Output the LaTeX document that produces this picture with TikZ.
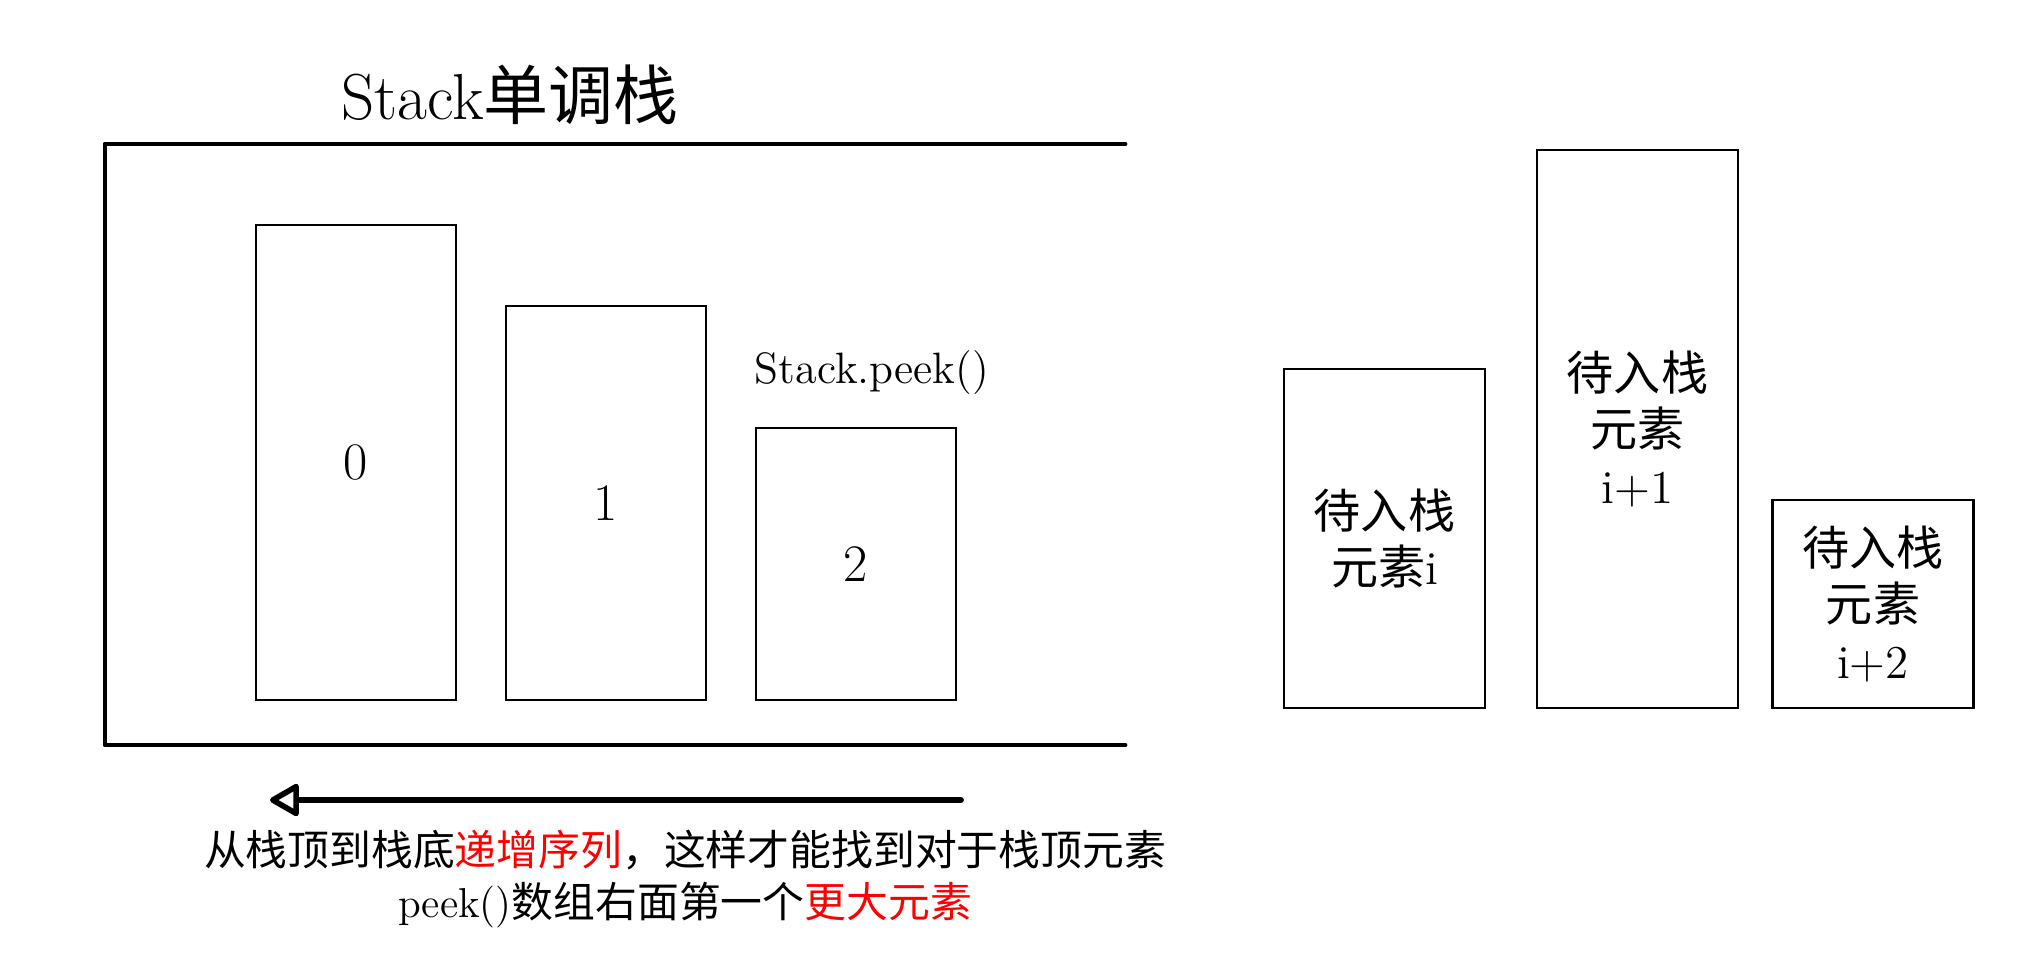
\documentclass[tikz,border=0pt]{standalone}
\usepackage{fontspec}
\newfontfamily\cjk{Noto Sans CJK SC}
\usetikzlibrary{arrows.meta}

\begin{document}
\begin{tikzpicture}[scale=0.1]
\tikzstyle{every node}+=[inner sep=0pt]
\tikzstyle{cell}=[draw=black, line width=0.8pt, minimum width=2cm, font=\fontsize{15}{18}\selectfont]
\tikzstyle{waiting}=[draw=black, line width=0.8pt, minimum width=2.01cm, align=center, font=\fontsize{13.4}{16.2}\selectfont]
\tikzstyle{wall}=[black, line width=1.4pt, line join=round, line cap=round]
\tikzstyle{flow}=[black, line width=1.6pt, line cap=round, -{Triangle[open, round, length=3.2mm, width=3.5mm]}]
\useasboundingbox (0,0) rectangle (204.2,-97.7);
% the stack
\node (title) at (51.0,-9.5) {\fontsize{18.5}{22}\selectfont Stack{\cjk 单调栈}};
\draw [wall] (112.5,-14.4) -- (10.5,-14.4) -- (10.5,-74.5) -- (112.5,-74.5);
\node [cell, minimum height=4.75cm] (s0) at (35.6,-46.25) {0};
\node [cell, minimum height=3.94cm] (s1) at (60.6,-50.3) {1};
\node [cell, minimum height=2.72cm] (s2) at (85.6,-56.4) {2};
\node (peek) at (87.2,-37.3) {\fontsize{12.5}{15}\selectfont Stack.peek()};
% direction of the order
\coordinate (from) at (96.1,-80.0);
\coordinate (to) at (27.0,-80.0);
\draw [flow] (from) -- (to);
\node [align=center, font=\fontsize{11.9}{14.8}\selectfont] (note) at (68.5,-87.9)
  {{\cjk 从栈顶到栈底\textcolor{red}{递增序列}，这样才能找到对于栈顶元素}\\
   peek(){\cjk 数组右面第一个\textcolor{red}{更大元素}}};
% elements waiting to be pushed
\node [waiting, minimum height=3.39cm] (w0) at (138.45,-53.85) {{\cjk 待入栈}\\{\cjk 元素}i};
\node [waiting, minimum height=5.58cm] (w1) at (163.75,-42.9) {{\cjk 待入栈}\\{\cjk 元素}\\i+1};
\node [waiting, minimum height=2.08cm] (w2) at (187.3,-60.4) {{\cjk 待入栈}\\{\cjk 元素}\\i+2};
\end{tikzpicture}
\end{document}
